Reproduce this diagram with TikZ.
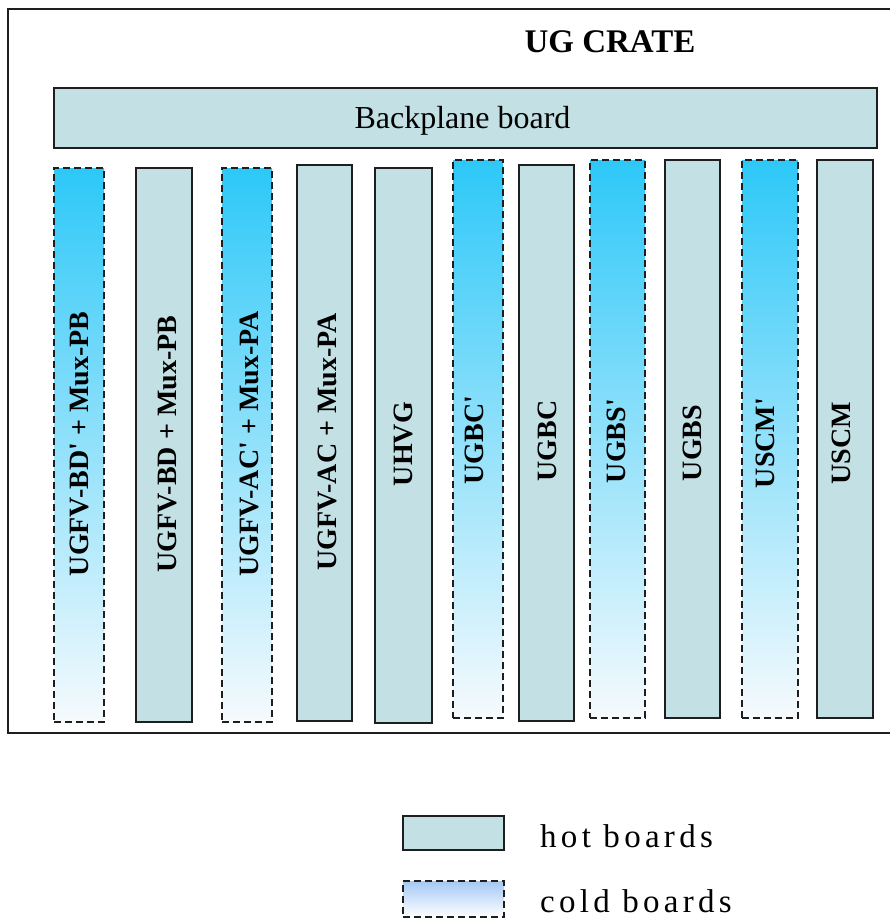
\documentclass[tikz,border=0pt]{standalone}
\usepackage{fontspec}
\setmainfont{Liberation Serif}
\definecolor{hotfill}{RGB}{195,225,228}
\definecolor{coldtop}{RGB}{45,200,248}
\definecolor{coldmid}{RGB}{170,223,248}
\definecolor{coldbot}{RGB}{246,250,253}
\definecolor{legtop}{RGB}{165,200,245}
\definecolor{edge}{RGB}{30,30,30}
\tikzset{
  hotbox/.style={draw=edge, line width=1.8pt, fill=hotfill, inner sep=0pt, outer sep=0pt},
  coldbox/.style={draw=edge, line width=1.8pt, dash pattern=on 7pt off 4pt,
     top color=coldtop, middle color=coldmid, bottom color=coldbot, inner sep=0pt, outer sep=0pt},
  legcold/.style={draw=edge, line width=1.8pt, dash pattern=on 7pt off 4pt,
     top color=legtop, bottom color=white, inner sep=0pt, outer sep=0pt},
  vlabel/.style={rotate=90, inner sep=0pt, font=\fontsize{28}{30}\selectfont\bfseries},
  legtext/.style={anchor=base west, inner sep=0pt,
     font=\fontsize{33}{36}\selectfont\addfontfeature{LetterSpace=13}}
}
\begin{document}
\begin{tikzpicture}[x=1pt,y=-1pt]
\useasboundingbox (0,0) rectangle (890,922);
\clip (0,0) rectangle (890,922);
\fill[white] (0,0) rectangle (890,922);
% crate frame
\draw[draw=edge, line width=2pt] (8,9) rectangle (905,733);
\node[anchor=base, inner sep=0pt, font=\fontsize{33}{36}\selectfont\bfseries] (title) at (610,52) {UG CRATE};
% backplane
\node[hotbox, minimum width=823pt, minimum height=60pt] (bp) at (465.5,118) {};
\node[anchor=base, inner sep=0pt, font=\fontsize{32}{34}\selectfont] (bpt) at (462.5,128) {Backplane board};
% boards
\node[coldbox, minimum width=50pt, minimum height=554pt] (b1) at (79,445) {};
\node[hotbox,  minimum width=56pt, minimum height=554pt] (b2) at (164,445) {};
\node[coldbox, minimum width=50pt, minimum height=554pt] (b3) at (247,445) {};
\node[hotbox,  minimum width=55pt, minimum height=556pt] (b4) at (324.5,443) {};
\node[hotbox,  minimum width=57pt, minimum height=555pt] (b5) at (403.5,445.5) {};
\node[coldbox, minimum width=50pt, minimum height=558pt] (b6) at (478,439) {};
\node[hotbox,  minimum width=55pt, minimum height=556pt] (b7) at (546.5,443) {};
\node[coldbox, minimum width=55pt, minimum height=558pt] (b8) at (617.5,439) {};
\node[hotbox,  minimum width=55pt, minimum height=558pt] (b9) at (692.5,439) {};
\node[coldbox, minimum width=56pt, minimum height=558pt] (b10) at (770,439) {};
\node[hotbox,  minimum width=56pt, minimum height=558pt] (b11) at (845,439) {};
% labels
\node[vlabel] (l1) at (79,444) {UGFV-BD\textquotesingle{} + Mux-PB};
\node[vlabel] (l2) at (167,444) {UGFV-BD + Mux-PB};
\node[vlabel] (l3) at (249,444) {UGFV-AC\textquotesingle{} + Mux-PA};
\node[vlabel] (l4) at (327,442) {UGFV-AC + Mux-PA};
\node[vlabel] (l5) at (403,444) {UHVG};
\node[vlabel] (l6) at (474,440) {UGBC\textquotesingle};
\node[vlabel] (l7) at (547,441) {UGBC};
\node[vlabel] (l8) at (616,441) {UGBS\textquotesingle};
\node[vlabel] (l9) at (692,443) {UGBS};
\node[vlabel] (l10) at (765,443) {USCM\textquotesingle};
\node[vlabel] (l11) at (841,443) {USCM};
% legend
\node[hotbox, minimum width=101pt, minimum height=34pt] (lh) at (453.5,833) {};
\node[legcold, minimum width=101pt, minimum height=36pt] (lc) at (453.5,899) {};
\node[legtext] (th) at (540,847) {hot boards};
\node[legtext] (tc) at (540,912) {cold boards};
\end{tikzpicture}
\end{document}
